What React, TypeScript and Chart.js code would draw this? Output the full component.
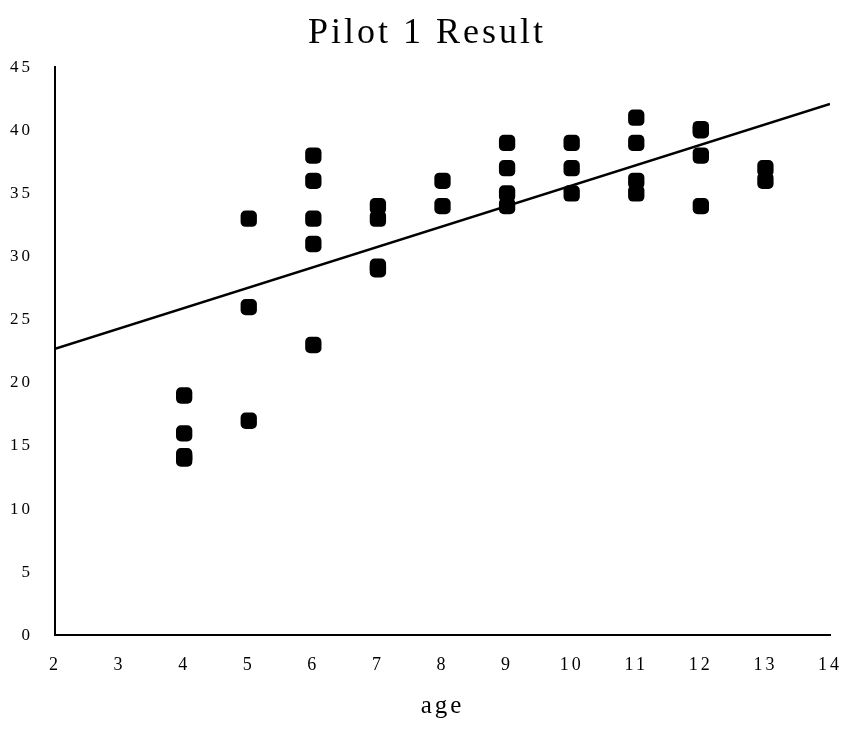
import React, { useEffect, useRef } from "react";
import { Chart, registerables } from "chart.js";

Chart.register(...registerables);

const ages = [4, 4, 4, 4, 5, 5, 5, 6, 6, 6, 6, 6, 7, 7, 7, 7, 8, 8, 9, 9, 9, 9, 10, 10, 10, 11, 11, 11, 11, 12, 12, 12, 12, 13, 13];
const scores = [19, 16, 14, 14.2, 33, 26, 17, 38, 36, 33, 31, 23, 34, 33, 29, 29.2, 36, 34, 39, 37, 35, 34, 39, 37, 35, 41, 39, 36, 35, 40, 40.1, 38, 34, 37, 36];
const trendX = [2, 14];
const trendY = [22.7, 42.1];
const xTicks = [2, 3, 4, 5, 6, 7, 8, 9, 10, 11, 12, 13, 14];
const yTicks = [0, 5, 10, 15, 20, 25, 30, 35, 40, 45];

const FONT = "'Liberation Serif', 'Times New Roman', serif";

export default function App() {
  const ref = useRef<HTMLCanvasElement | null>(null);
  useEffect(() => {
    document.body.style.margin = "0";
    const canvas = ref.current!;
    const setSpacing = (chart: any) => {
      chart.ctx.letterSpacing = "3px";
    };
    const spacing = {
      id: "spacing",
      beforeUpdate: setSpacing,
      beforeLayout: setSpacing,
      beforeDraw: setSpacing,
    };
    const chart = new Chart(canvas, {
      type: "scatter",
      data: {
        datasets: [
          {
            label: "scores",
            data: ages.map((a, i) => ({ x: a, y: scores[i] })),
            pointStyle: "rectRounded",
            pointRadius: 9.5,
            pointBackgroundColor: "#000",
            pointBorderWidth: 0,
            borderColor: "#000",
          },
          {
            label: "trend",
            type: "line",
            data: trendX.map((x, i) => ({ x, y: trendY[i] })),
            borderColor: "#000",
            borderWidth: 2.5,
            pointRadius: 0,
            fill: false,
          } as any,
        ],
      },
      options: {
        animation: false,
        responsive: false,
        layout: { padding: { left: 10, right: 0, top: 0, bottom: 22 } },
        plugins: {
          legend: { display: false },
          tooltip: { enabled: false },
          title: {
            display: true,
            text: "Pilot 1 Result",
            color: "#000",
            font: { family: FONT, size: 36, weight: "normal" },
            padding: { top: 12, bottom: 12 },
          },
        },
        scales: {
          x: {
            type: "linear",
            min: 2,
            max: 14,
            afterBuildTicks: (s: any) => {
              s.ticks = xTicks.map((v) => ({ value: v }));
            },
            afterFit: (s: any) => {
              s.paddingRight = 14;
              s.paddingLeft = 0;
            },
            grid: { display: false },
            border: { display: true, color: "#000", width: 2 },
            ticks: {
              color: "#000",
              font: { family: FONT, size: 18 },
              padding: 11,
              maxRotation: 0,
              autoSkip: false,
            },
            title: {
              display: true,
              text: "age",
              color: "#000",
              font: { family: FONT, size: 25 },
              padding: { top: 4, bottom: 0 },
            },
          },
          y: {
            type: "linear",
            min: 0,
            max: 45,
            afterBuildTicks: (s: any) => {
              s.ticks = yTicks.map((v) => ({ value: v }));
            },
            afterFit: (s: any) => {
              s.width = 45;
            },
            grid: { display: false },
            border: { display: true, color: "#000", width: 2 },
            ticks: {
              color: "#000",
              font: { family: FONT, size: 17 },
              padding: 14,
            },
          },
        },
      },
      plugins: [spacing],
    });
    return () => chart.destroy();
  }, []);
  return (
    <div style={{ width: 844, height: 743 }}>
      <canvas ref={ref} width={844} height={743} style={{ display: "block" }} />
    </div>
  );
}
